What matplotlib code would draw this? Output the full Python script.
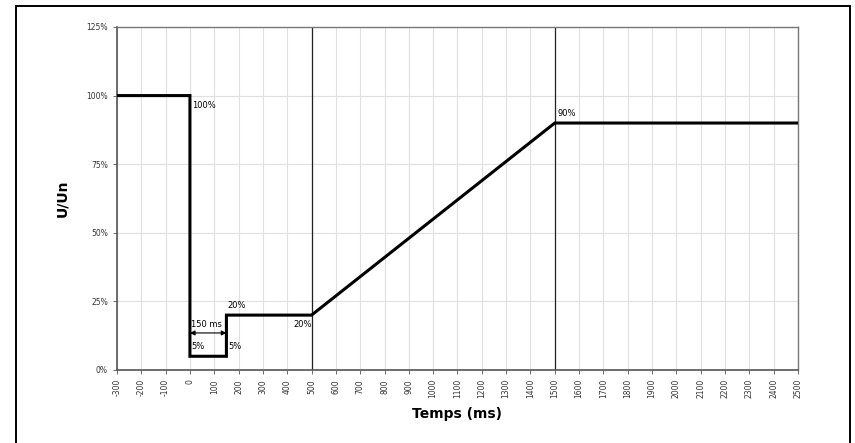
import matplotlib
matplotlib.use("Agg")
import matplotlib.pyplot as plt
from matplotlib.patches import Rectangle

# Data
t_ms = [-300, 0, 0, 150, 150, 500, 1500, 2500]
u_pct = [100, 100, 5, 5, 20, 20, 90, 90]
x_ticks = list(range(-300, 2501, 100))
y_ticks = [0, 25, 50, 75, 100, 125]
marker_lines = [500, 1500]

fig = plt.figure(figsize=(8.55, 4.43), dpi=100)
ax = fig.add_axes([0.1368, 0.1648, 0.7965, 0.7743])

ax.set_xlim(-300, 2500)
ax.set_ylim(0, 125)
ax.set_xticks(x_ticks)
ax.set_xticklabels([str(v) for v in x_ticks], rotation=90, fontsize=5.5, color="#333333")
ax.set_yticks(y_ticks)
ax.set_yticklabels([f"{v}%" for v in y_ticks], fontsize=5.5, color="#333333")
ax.tick_params(length=3, width=0.6, colors="#555555", labelcolor="#333333")
ax.grid(True, color="#e0e0e0", linewidth=0.8)
ax.set_axisbelow(True)
for s in ["top", "right"]:
    ax.spines[s].set_color("#777777")
    ax.spines[s].set_linewidth(1.0)
for s in ["left", "bottom"]:
    ax.spines[s].set_color("#555555")
    ax.spines[s].set_linewidth(1.2)

for xv in marker_lines:
    ax.axvline(xv, color="#222222", linewidth=0.9, zorder=2)

ax.plot(t_ms, u_pct, color="black", linewidth=2.2, zorder=3, solid_joinstyle="miter")

ax.annotate("", xy=(0, 13.5), xytext=(150, 13.5),
            arrowprops=dict(arrowstyle="<|-|>", color="black", lw=0.8,
                            mutation_scale=7, shrinkA=0, shrinkB=0), zorder=4)
fs = 6
ax.text(5, 16.5, "150 ms", fontsize=fs, ha="left", va="center")
ax.text(5, 8.5, "5%", fontsize=fs, ha="left", va="center")
ax.text(158, 8.5, "5%", fontsize=fs, ha="left", va="center")
ax.text(155, 23.5, "20%", fontsize=fs, ha="left", va="center")
ax.text(425, 16.5, "20%", fontsize=fs, ha="left", va="center")
ax.text(10, 96.5, "100%", fontsize=fs, ha="left", va="center")
ax.text(1510, 93.5, "90%", fontsize=fs, ha="left", va="center")

ax.set_xlabel("Temps (ms)", fontsize=10, fontweight="bold", labelpad=6)
ax.set_ylabel("U/Un", fontsize=10, fontweight="bold", labelpad=12)

fig.patches.append(Rectangle((0.0187, -0.02), 0.9755, 1.0065, transform=fig.transFigure,
                             fill=False, edgecolor="black", linewidth=1.4))

fig.savefig("out.png", dpi=100)
